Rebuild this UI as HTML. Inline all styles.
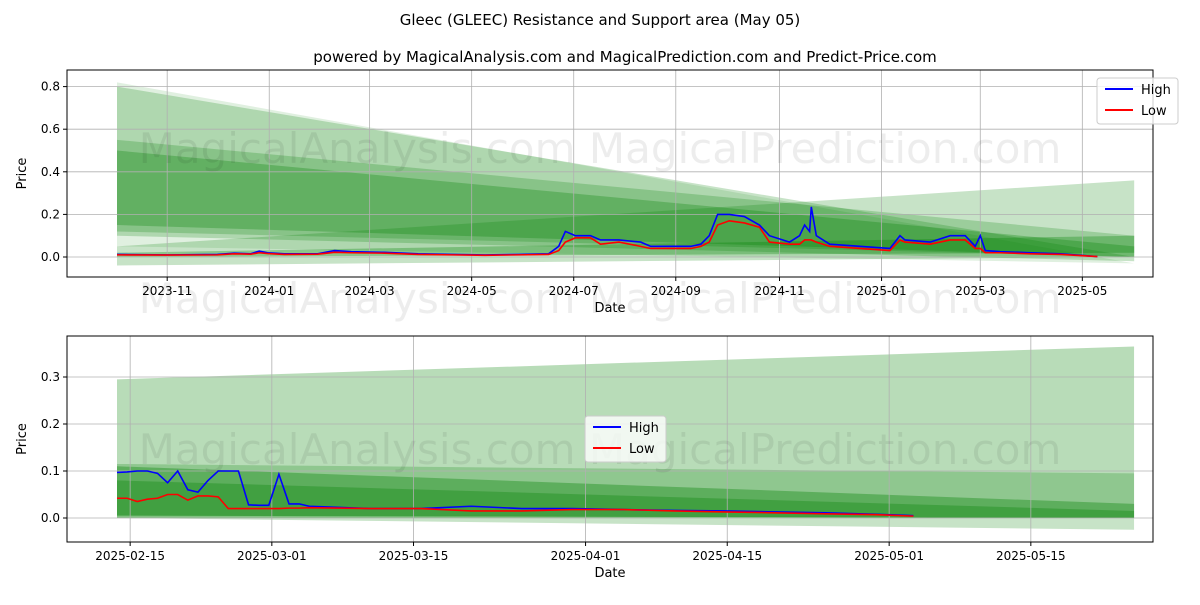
<!DOCTYPE html>
<html><head><meta charset="utf-8"><style>
body{margin:0;background:#fff;font-family:"Liberation Sans",sans-serif}
svg text{font-family:"DejaVu Sans","Liberation Sans",sans-serif}
</style></head><body>
<svg id="s" width="1200" height="600" xmlns="http://www.w3.org/2000/svg">
<rect width="1200" height="600" fill="#fff"/>
<text x="600" y="25" text-anchor="middle" font-size="15">Gleec (GLEEC) Resistance and Support area (May 05)</text>
<text x="625" y="62" text-anchor="middle" font-size="15">powered by MagicalAnalysis.com and MagicalPrediction.com and Predict-Price.com</text>
</svg>
<script>
// top chart data: day offset from 2023-10-02
const topDays=[0,30,60,70,80,85,90,100,120,130,140,160,180,200,220,240,258,264,268,274,283,289,300,313,319,330,343,349,354,359,366,375,384,390,402,408,411,414,415,418,426,444,462,468,471,486,498,507,513,516,519,528,546,564,586];
const topHigh=[.012,.010,.012,.018,.015,.028,.020,.015,.015,.030,.025,.022,.015,.012,.010,.012,.015,.05,.12,.10,.10,.08,.08,.07,.05,.05,.05,.06,.10,.20,.20,.19,.15,.10,.07,.10,.15,.12,.235,.10,.06,.05,.04,.10,.08,.07,.10,.10,.05,.10,.03,.025,.02,.015,.002];
const topLow=[.010,.009,.010,.015,.013,.020,.016,.012,.013,.022,.020,.018,.012,.010,.008,.010,.012,.03,.07,.09,.09,.06,.07,.05,.04,.04,.04,.05,.07,.15,.17,.16,.14,.07,.06,.06,.08,.08,.08,.07,.05,.04,.03,.08,.07,.06,.08,.08,.04,.04,.02,.02,.015,.012,.002];
const topTicks=["2023-11","2024-01","2024-03","2024-05","2024-07","2024-09","2024-11","2025-01","2025-03","2025-05"];
const topTickDays=[30,91,151,212,273,334,396,457,516,577];
const topYTicks=[0,0.2,0.4,0.6,0.8];
// bands: [topStart, botStart, topEnd, botEnd, opacity]
const topBands=[[.82,.05,-.03,-.03,.12],[.80,.10,0,-.02,.22],[.55,.12,.10,0,.22],[.50,.15,.05,0,.28],[.05,-.04,.36,0,.22],[.02,0,.10,.02,.3]];
// bottom chart: day offset from 2025-02-13 (approx)
const botDays=[0,1,2,3,4,5,6,7,8,9,10,11,12,13,14,15,16,17,18,19,25,30,35,40,45,50,55,60,65,70,75,78.7];
const botHigh=[.097,.098,.1,.1,.095,.075,.1,.06,.055,.08,.1,.1,.1,.028,.027,.027,.093,.03,.03,.025,.02,.02,.025,.02,.02,.018,.016,.015,.013,.011,.008,.005];
const botLow=[.042,.042,.035,.04,.042,.05,.05,.038,.047,.047,.045,.02,.02,.02,.02,.02,.02,.021,.021,.022,.02,.02,.015,.015,.018,.018,.015,.013,.011,.009,.007,.004];
const botTicks=["2025-02-15","2025-03-01","2025-03-15","2025-04-01","2025-04-15","2025-05-01","2025-05-15"];
const botTickDays=[1.3,15.3,29.3,46.3,60.3,76.3,90.3];
const botYTicks=[0,0.1,0.2,0.3];
const botBands=[[.295,.005,.365,0,.28],[.115,0,.095,-.025,.22],[.11,0,.03,0,.35],[.08,.005,.015,0,.3]];

const NS="http://www.w3.org/2000/svg",S=document.getElementById('s');
function el(t,a,p){const e=document.createElementNS(NS,t);for(const k in a)e.setAttribute(k,a[k]);(p||S).appendChild(e);return e;}
function chart(o){
 const X=d=>o.x0+d*o.ppd, Y=v=>o.y0-v*o.ppv;
 const g=el('g',{});
 
 
 o.bands.forEach(b=>{
  const p=el('polygon',{points:`${X(0)},${Y(b[0])} ${X(o.end)},${Y(b[2])} ${X(o.end)},${Y(b[3])} ${X(0)},${Y(b[1])}`,fill:'rgb(0,128,0)','fill-opacity':b[4]},g);
  
  
 });
 o.ty.forEach(v=>{
  el('line',{x1:o.L,x2:o.R,y1:Y(v),y2:Y(v),stroke:'#b0b0b0','stroke-width':0.8},g);
  const t=el('text',{x:o.L-7,y:Y(v)+4,'text-anchor':'end','font-size':12},g);t.textContent=v.toFixed(1);
  
  
 });
 o.tx.forEach((s,i)=>{
  const x=X(o.txd[i]);
  el('line',{x1:x,x2:x,y1:o.T,y2:o.B,stroke:'#b0b0b0','stroke-width':0.8},g);
  el('line',{x1:x,x2:x,y1:o.B,y2:o.B+4,stroke:'#000'},g);
  const t=el('text',{x:x,y:o.B+18,'text-anchor':'middle','font-size':12},g);t.textContent=s;
  
  
 });
 o.wm.forEach(y=>{const t=el('text',{x:600,y:y,'text-anchor':'middle','font-size':42,fill:'rgba(0,0,0,0.07)'},g);t.textContent='MagicalAnalysis.com   MagicalPrediction.com';
  
  });
 [[o.hi,'#0000ff','high-line'],[o.lo,'#ff0000','low-line']].forEach(([arr,c,n])=>{
  const pl=el('polyline',{points:o.days.map((d,i)=>X(d)+','+Y(arr[i])).join(' '),fill:'none',stroke:c,'stroke-width':1.6},g);
  
  
 });
 el('rect',{x:o.L,y:o.T,width:o.R-o.L,height:o.B-o.T,fill:'none',stroke:'#000','stroke-width':1},g);
 o.ty.forEach(v=>el('line',{x1:o.L-4,x2:o.L,y1:Y(v),y2:Y(v),stroke:'#000'},g));
 let t=el('text',{x:(o.L+o.R)/2,y:o.B+35,'text-anchor':'middle','font-size':13},g);t.textContent='Date';
 
 
 const cy=(o.T+o.B)/2;
 t=el('text',{x:26,y:cy,'text-anchor':'middle','font-size':13,transform:`rotate(-90 26 ${cy})`},g);t.textContent='Price';
 
 
 const lg=el('g',{},g);
 
 
 el('rect',{x:o.lx,y:o.ly,width:81,height:46,rx:3,fill:'#fff','fill-opacity':0.8,stroke:'#ccc'},lg);
 [['High','#0000ff'],['Low','#ff0000']].forEach((e,i)=>{
  const yy=o.ly+11+i*21;
  el('line',{x1:o.lx+8,x2:o.lx+36,y1:yy,y2:yy,stroke:e[1],'stroke-width':2},lg);
  const tt=el('text',{x:o.lx+44,y:yy+5,'font-size':13},lg);tt.textContent=e[0];
  
  
 });
}
chart({name:'top-chart',L:67,R:1153,T:70,B:277,x0:117,ppd:1.673,y0:257,ppv:213,end:608,bands:topBands,days:topDays,hi:topHigh,lo:topLow,tx:topTicks,txd:topTickDays,ty:topYTicks,wm:[163,313],lx:1097,ly:78});
chart({name:'bottom-chart',L:67,R:1153,T:336,B:542,x0:117,ppd:10.12,y0:518,ppv:470,end:100.5,bands:botBands,days:botDays,hi:botHigh,lo:botLow,tx:botTicks,txd:botTickDays,ty:botYTicks,wm:[464],lx:585,ly:416});
</script>
</body></html>
